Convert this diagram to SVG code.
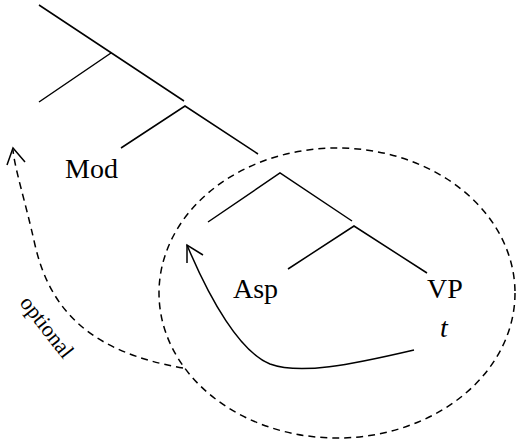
<svg xmlns="http://www.w3.org/2000/svg" width="516" height="443" viewBox="0 0 516 443">
<style>
.t{fill:none;stroke:#000;stroke-width:1.5;stroke-linecap:butt}
.d{fill:none;stroke:#000;stroke-width:1.5;stroke-dasharray:7 5}
.l{font-family:"Liberation Serif","Times New Roman",serif;font-size:28px;fill:#000}
.o{font-size:22px}
</style>
<rect width="516" height="443" fill="#fff"/>
<g id="connectors">
<path class="t" d="M39,5 L184,101 M111,53 L39,102"/>
<path class="t" d="M121,148 L185,106 L258,154"/>
<path class="t" d="M208,222 L280,173 L352,221"/>
<path class="t" d="M288,269 L354,226 L427,273"/>
<ellipse class="d" cx="337" cy="293" rx="178" ry="145"/>
<path class="t" d="M414,350 C350,365 300,375 270,364 C240,352 210,300 187,245"/>
<path class="t" d="M187,263 L187,245 L203,255"/>
<path class="d" d="M183,368 C90,352 50,310 35,245 C25,200 15,170 13,150"/>
<path class="t" d="M7,165 L13,148 L25,162"/>
</g>
<g id="mod"><text class="l" x="65" y="178">Mod</text></g>
<g id="asp"><text class="l" x="233" y="298">Asp</text></g>
<g id="vp"><text class="l" x="427" y="298">VP</text><text class="l" x="440" y="337" font-style="italic">t</text></g>
<g id="optional"><text class="l o" transform="translate(19,303) rotate(52)">optional</text></g>
</svg>
